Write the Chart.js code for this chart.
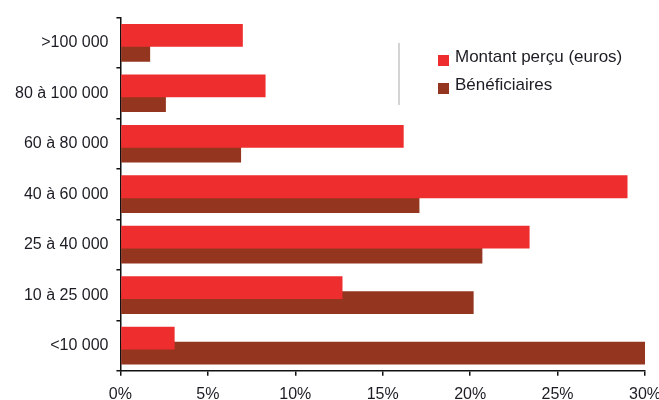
<!DOCTYPE html>
<html>
<head>
<meta charset="utf-8">
<script src="https://cdn.jsdelivr.net/npm/chart.js@4"></script>
<style>
  html, body { margin: 0; padding: 0; background: #fff; overflow: hidden; }
  #wrap { position: relative; width: 659px; height: 400px; overflow: hidden; }
  #legend { position: absolute; left: 438px; top: 47px; font-family: "Liberation Sans", Arial, sans-serif; font-size: 17px; color: #1c1c24; }
  #legend div { height: 28px; line-height: 20px; white-space: nowrap; }
  #legend span.box { display: inline-block; width: 11px; height: 11px; margin-right: 6px; vertical-align: -4px; }
  #sep { position: absolute; left: 398px; top: 43px; width: 2px; height: 62px; background: #d4d4d4; }
</style>
</head>
<body>
<div id="wrap">
  <canvas id="chart" width="659" height="400"></canvas>
  <div id="sep"></div>
  <div id="legend"></div>
</div>
<script>
// tranches de revenu, du haut vers le bas
var categories = [">100 000", "80 à 100 000", "60 à 80 000", "40 à 60 000", "25 à 40 000", "10 à 25 000", "<10 000"];
var montant = [7.0, 8.3, 16.2, 29.0, 23.4, 12.7, 3.1];
var beneficiaires = [1.7, 2.6, 6.9, 17.1, 20.7, 20.2, 30.1];
var seriesNames = ["Montant perçu (euros)", "Bénéficiaires"];
var seriesColors = ["#ee2e2e", "#943520"];
var xTicks = [0, 5, 10, 15, 20, 25, 30];

var tickFont = { family: "'Liberation Sans', Arial, sans-serif", size: 16 };

var data = {
    labels: categories,
    datasets: [{
        label: seriesNames[0],
        data: montant,
        backgroundColor: seriesColors[0],
        borderWidth: 0
    },
    {
        label: seriesNames[1],
        data: beneficiaires,
        backgroundColor: seriesColors[1],
        borderWidth: 0
    }]
};

var config = {
    type: 'bar',
    data: data,
    options: {
        indexAxis: 'y',
        responsive: false,
        animation: false,
        devicePixelRatio: 1,
        categoryPercentage: 0.59,
        barPercentage: 1.53,
        layout: { padding: { top: 16, left: 7, right: 0, bottom: -12 } },
        plugins: {
            legend: { display: false },
            tooltip: { enabled: false }
        },
        scales: {
            x: {
                min: xTicks[0],
                max: xTicks[xTicks.length - 1],
                afterBuildTicks: function (axis) {
                    axis.ticks = xTicks.map(function (v) { return { value: v }; });
                },
                // le label 30% deborde un peu a droite, comme sur l'original
                afterFit: function (axis) {
                    axis.paddingRight = 14;
                    axis.height -= 1;
                },
                ticks: {
                    font: tickFont,
                    color: '#1c1c24',
                    padding: 9,
                    callback: function (v) { return v + '%'; }
                },
                grid: { drawOnChartArea: false, tickLength: 5, color: '#111', lineWidth: 1.5 },
                border: { color: '#111', width: 1.5 }
            },
            y: {
                ticks: { font: tickFont, color: '#1c1c24', padding: 8 },
                grid: { drawOnChartArea: false, tickLength: 4, color: '#111', lineWidth: 1.5, offset: true },
                border: { color: '#111', width: 1.5 }
            }
        }
    }
};

var chart = new Chart(document.getElementById("chart"), config);

// legende html
var legend = document.getElementById("legend");
for (var i = 0; i < seriesNames.length; i++) {
    var row = document.createElement("div");
    row.innerHTML = '<span class="box" style="background:' + seriesColors[i] + '"></span>' + seriesNames[i];
    legend.appendChild(row);
}
</script>
</body>
</html>
